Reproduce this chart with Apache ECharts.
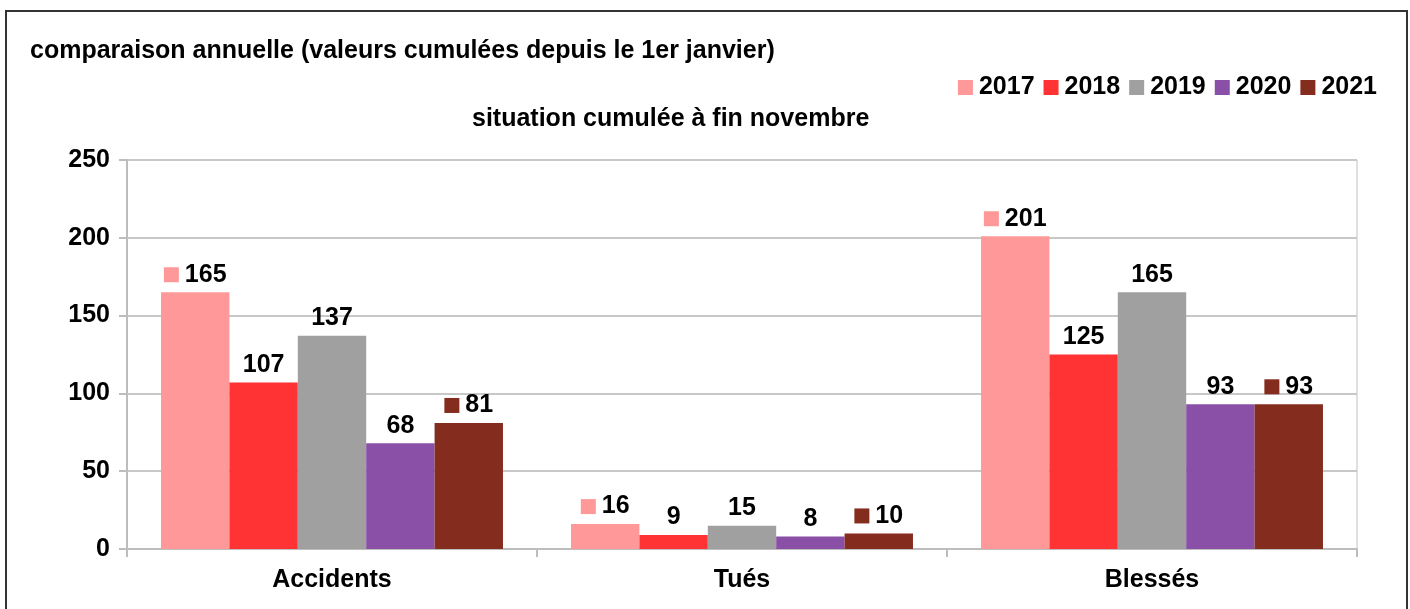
<!DOCTYPE html>
<html><head><meta charset="utf-8">
<script src="https://cdn.jsdelivr.net/npm/echarts@6/dist/echarts.min.js"></script>
<style>html,body{margin:0;padding:0;background:#fff}#c{width:1410px;height:609px}</style>
</head><body><div id="c"></div>
<script>
const categories = ['Accidents', 'Tués', 'Blessés'];
const years = ['2017', '2018', '2019', '2020', '2021'];
const v2017 = [165, 16, 201];
const v2018 = [107, 9, 125];
const v2019 = [137, 15, 165];
const v2020 = [68, 8, 93];
const v2021 = [81, 10, 93];
const yTicks = [0, 50, 100, 150, 200, 250];

const values = [v2017, v2018, v2019, v2020, v2021];
const colors = ['#FF9999', '#FF3333', '#A0A0A0', '#8A4FA6', '#842C1E'];
const withKey = [true, false, false, false, true];
const FONT = "'Liberation Sans', Arial, sans-serif";
const FS = 25;

const chart = echarts.init(document.getElementById('c'));
chart.setOption({
  animation: false,
  textStyle: { fontFamily: FONT },
  title: [
    { text: 'comparaison annuelle (valeurs cumulées depuis le 1er janvier)', left: 25, top: 34,
      textStyle: { fontFamily: FONT, fontSize: FS, fontWeight: 'bold', color: '#000' } },
    { text: 'situation cumulée à fin novembre', left: 467, top: 102,
      textStyle: { fontFamily: FONT, fontSize: FS, fontWeight: 'bold', color: '#000' } }
  ],
  legend: {
    data: years, right: 28, top: 70, icon: 'rect', itemWidth: 15, itemHeight: 15, itemGap: 9,
    textStyle: { fontFamily: FONT, fontSize: FS, fontWeight: 'bold', color: '#000', padding: [0,0,0,1] }
  },
  graphic: [{ type: 'rect', shape: { x: 6, y: 11, width: 1401, height: 700 }, silent: true,
    style: { fill: 'none', stroke: '#333', lineWidth: 2 } }],
  grid: { left: 127, right: 53, top: 160, bottom: 60, show: true, borderColor: '#c0c0c0', borderWidth: 1 },
  xAxis: {
    type: 'category', data: categories,
    axisLine: { lineStyle: { color: '#bdbdbd', width: 2 } },
    axisTick: { show: true, length: 8, lineStyle: { color: '#bdbdbd', width: 2 } },
    axisLabel: { fontFamily: FONT, fontSize: FS, fontWeight: 'bold', color: '#000', margin: 19 }
  },
  yAxis: {
    type: 'value', min: yTicks[0], max: yTicks[yTicks.length - 1], interval: 50,
    axisLine: { show: true, lineStyle: { color: '#bdbdbd', width: 2 } },
    axisTick: { show: true, length: 8, lineStyle: { color: '#bdbdbd', width: 2 } },
    splitLine: { lineStyle: { color: '#c8c8c8', width: 2 } },
    axisLabel: { fontFamily: FONT, fontSize: FS, fontWeight: 'bold', color: '#000', margin: 17 }
  },
  series: years.map((y, i) => ({
    name: y, type: 'bar', data: values[i], barGap: '0%', barCategoryGap: '16.6%',
    itemStyle: { color: colors[i] },
    label: {
      show: true, position: 'top', distance: 5,
      formatter: withKey[i] ? (p => '{k|}{v|' + p.value + '}') : (p => '{v|' + p.value + '}'),
      rich: {
        k: { width: 15, height: 15, backgroundColor: colors[i], padding: 0 },
        v: { fontFamily: FONT, fontSize: FS, fontWeight: 'bold', color: '#000', padding: [0, 0, 0, withKey[i] ? 6 : 0] }
      }
    }
  }))
});
</script></body></html>
